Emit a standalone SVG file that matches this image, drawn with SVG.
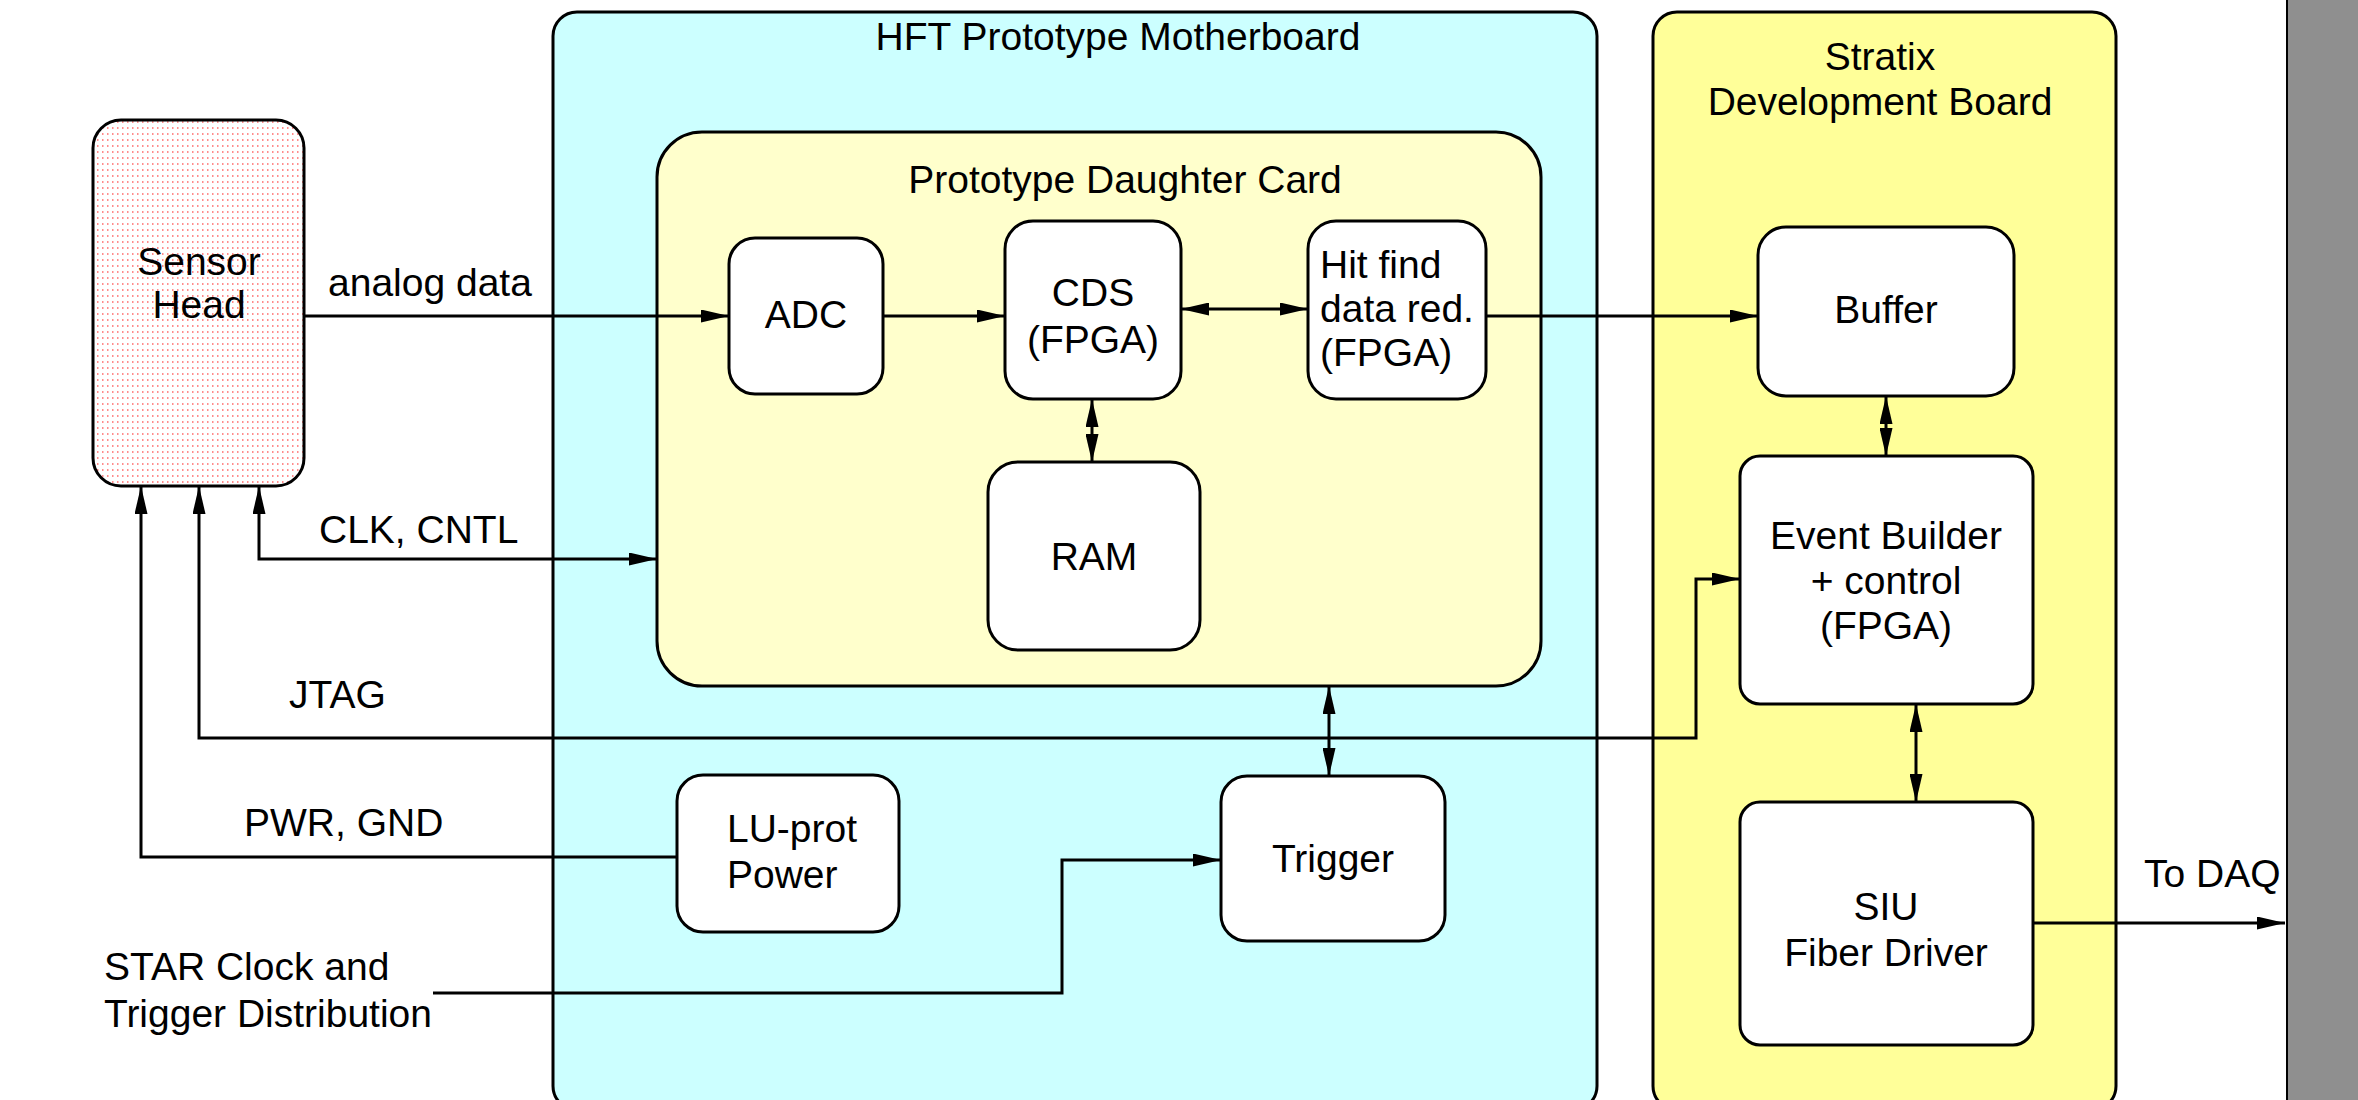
<svg xmlns="http://www.w3.org/2000/svg" width="2358" height="1100" viewBox="0 0 2358 1100">
<defs>
<style>
text{font-family:"Liberation Sans",Arial,sans-serif;font-size:39px;fill:#000}
.c{text-anchor:middle}
.box{fill:#fff;stroke:#000;stroke-width:3}
.ln{fill:none;stroke:#000;stroke-width:3}
</style>
<pattern id="dots" x="0" y="0" width="5" height="6" patternUnits="userSpaceOnUse">
<rect x="2" y="1" width="1.5" height="2" fill="#ff8c8c"/>
</pattern>
<marker id="arr" viewBox="0 0 28 13" refX="28" refY="6.5" markerWidth="28" markerHeight="13" markerUnits="userSpaceOnUse" orient="auto-start-reverse">
<path d="M0,0 L28,6.5 L0,13 z" fill="#000"/>
</marker>
</defs>
<rect x="0" y="0" width="2358" height="1100" fill="#fff"/>
<rect x="2287" y="-5" width="80" height="1110" fill="#8f8f8f" stroke="#000" stroke-width="2"/>

<g id="motherboard">
<rect x="553" y="12" width="1044" height="1098" rx="24" fill="#ccffff" stroke="#000" stroke-width="3"/>
<text class="c" x="1118" y="50">HFT Prototype Motherboard</text>
</g>
<g id="stratix">
<rect x="1653" y="12" width="463" height="1098" rx="24" fill="#ffff99" stroke="#000" stroke-width="3"/>
<text class="c" x="1880" y="70">Stratix</text>
<text class="c" x="1880" y="115">Development Board</text>
</g>
<g id="daughter">
<rect x="657" y="132" width="884" height="554" rx="45" fill="#ffffcc" stroke="#000" stroke-width="3"/>
<text class="c" x="1125" y="193">Prototype Daughter Card</text>
</g>

<g id="connectors">
<path class="ln" d="M304,316 H729" marker-end="url(#arr)"/>
<path class="ln" d="M883,316 H1005" marker-end="url(#arr)"/>
<path class="ln" d="M1181,309 H1308" marker-start="url(#arr)" marker-end="url(#arr)"/>
<path class="ln" d="M1486,316 H1758" marker-end="url(#arr)"/>
<path class="ln" d="M1092,399 V462" marker-start="url(#arr)" marker-end="url(#arr)"/>
<path class="ln" d="M1886,396 V456" marker-start="url(#arr)" marker-end="url(#arr)"/>
<path class="ln" d="M1916,704 V802" marker-start="url(#arr)" marker-end="url(#arr)"/>
<path class="ln" d="M2033,923 H2285" marker-end="url(#arr)"/>
<path class="ln" d="M1329,686 V776" marker-start="url(#arr)" marker-end="url(#arr)"/>
<path class="ln" d="M657,559 H259 V486" marker-start="url(#arr)" marker-end="url(#arr)"/>
<path class="ln" d="M199,486 V738 H1696 V579 H1740" marker-start="url(#arr)" marker-end="url(#arr)"/>
<path class="ln" d="M677,857 H141 V486" marker-end="url(#arr)"/>
<path class="ln" d="M433,993 H1062 V860 H1221" marker-end="url(#arr)"/>
<text x="328" y="296">analog data</text>
<text x="319" y="543">CLK, CNTL</text>
<text x="289" y="708">JTAG</text>
<text x="244" y="836">PWR, GND</text>
<text x="104" y="980">STAR Clock and</text>
<text x="104" y="1027">Trigger Distribution</text>
<text x="2144" y="887">To DAQ</text>
</g>

<g id="sensor">
<rect x="93" y="120" width="211" height="366" rx="28" fill="#fff"/>
<rect x="93" y="120" width="211" height="366" rx="28" fill="url(#dots)" stroke="#000" stroke-width="3"/>
<text class="c" x="199" y="275">Sensor</text>
<text class="c" x="199" y="318">Head</text>
</g>
<g id="adc">
<rect class="box" x="729" y="238" width="154" height="156" rx="26"/>
<text class="c" x="806" y="328">ADC</text>
</g>
<g id="cds">
<rect class="box" x="1005" y="221" width="176" height="178" rx="28"/>
<text class="c" x="1093" y="306">CDS</text>
<text class="c" x="1093" y="353">(FPGA)</text>
</g>
<g id="hitfind">
<rect class="box" x="1308" y="221" width="178" height="178" rx="28"/>
<text x="1320" y="278">Hit find</text>
<text x="1320" y="322">data red.</text>
<text x="1320" y="366">(FPGA)</text>
</g>
<g id="ram">
<rect class="box" x="988" y="462" width="212" height="188" rx="30"/>
<text class="c" x="1094" y="570">RAM</text>
</g>
<g id="buffer">
<rect class="box" x="1758" y="227" width="256" height="169" rx="28"/>
<text class="c" x="1886" y="323">Buffer</text>
</g>
<g id="eventbuilder">
<rect class="box" x="1740" y="456" width="293" height="248" rx="20"/>
<text class="c" x="1886" y="549">Event Builder</text>
<text class="c" x="1886" y="594">+ control</text>
<text class="c" x="1886" y="639">(FPGA)</text>
</g>
<g id="siu">
<rect class="box" x="1740" y="802" width="293" height="243" rx="20"/>
<text class="c" x="1886" y="920">SIU</text>
<text class="c" x="1886" y="966">Fiber Driver</text>
</g>
<g id="luprot">
<rect class="box" x="677" y="775" width="222" height="157" rx="26"/>
<text x="727" y="842">LU-prot</text>
<text x="727" y="888">Power</text>
</g>
<g id="trigger">
<rect class="box" x="1221" y="776" width="224" height="165" rx="26"/>
<text class="c" x="1333" y="872">Trigger</text>
</g>
</svg>
